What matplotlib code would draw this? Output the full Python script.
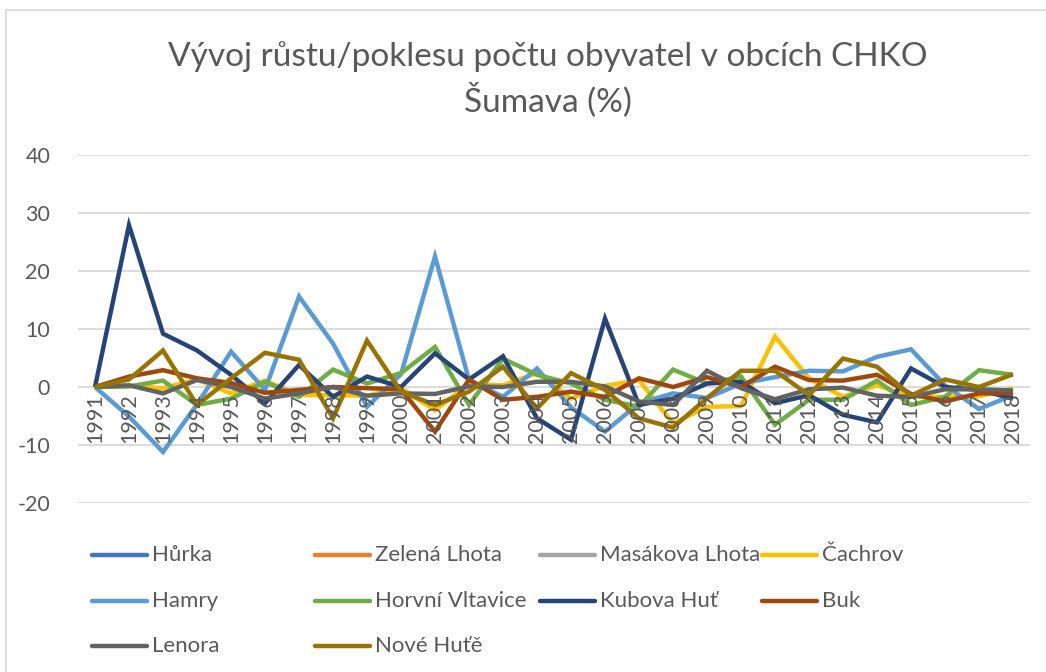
import matplotlib.pyplot as plt
from matplotlib.lines import Line2D
from matplotlib.patches import Rectangle

plt.rcParams["axes.unicode_minus"] = False

years = list(range(1991, 2019))
year_labels = [str(y) for y in years]

# municipalities and their line colours (legend order, row by row)
names = ["Hůrka", "Zelená Lhota", "Masákova Lhota", "Čachrov",
         "Hamry", "Horvní Vltavice", "Kubova Huť", "Buk",
         "Lenora", "Nové Huťě"]
colors = ["#4472C4", "#ED7D31", "#A5A5A5", "#FFC000",
          "#5B9BD5", "#70AD47", "#264478", "#9E480E",
          "#636363", "#997300"]

# year-on-year change of population (%)
hurka = []
zelena_lhota = []
masakova_lhota = []
cachrov = [0, 0.2, -0.2, 1.3, -1.1, 1.1, -1.4, -1.4, -1.5, -0.2,
           -4.0, 0.5, 0.3, 2.4, -2.0, 0.2, 1.2, -6.3, -3.4, -3.3,
           8.7, 1.5, -1.7, 0.3, -1.7, -1.7, -1.6, -0.2]
hamry = [0, -5.1, -11.2, -3.0, 6.1, -0.5, 15.6, 7.5, -3.4, 2.2,
         22.5, 1.2, -1.7, 3.2, -3.5, -7.7, -2.8, -1.1, -1.9, 0.6,
         1.7, 2.8, 2.7, 5.2, 6.5, 0.3, -3.8, -1.4]
horni_vltavice = [0, 0.1, 1.1, -3.1, -2.0, 0.9, -1.7, 3.0, 0.6, 2.4,
                  6.9, -3.1, 4.9, 2.1, 0.6, -2.2, -3.4, 3.0, 0.6, 1.8,
                  -6.5, -2.2, -2.2, 1.1, -3.1, -1.7, 2.9, 2.1]
kubova_hut = [0, 27.9, 9.2, 6.3, 2.1, -2.8, 3.8, -1.7, 1.8, 0.0,
              5.8, 1.3, 5.3, -5.4, -9.1, 11.8, -3.1, -2.0, 0.6, 0.9,
              -2.8, -1.4, -4.8, -6.1, 3.2, 0.0, -0.5, -2.0]
buk = [0, 1.8, 2.9, 1.5, 0.7, -1.0, -0.5, 0.0, -0.2, -0.4,
       -7.7, 1.3, -2.2, -1.7, -0.8, -1.7, 1.5, 0.0, 1.7, 0.0,
       3.5, 1.2, 1.1, 2.1, -1.2, -2.5, -1.1, -1.1]
lenora = [0, 0.3, -1.1, 1.2, 0.0, -2.0, -1.1, 0.0, -1.5, -1.1,
          -1.2, 0.1, 0.0, 0.9, 0.9, 0.1, -2.5, -3.1, 2.8, -0.2,
          -2.1, -0.4, -0.1, -1.5, -1.7, -0.4, -0.4, -0.6]
nove_hute = [0, 1.3, 6.3, -3.1, 1.5, 5.9, 4.7, -5.4, 8.0, -0.8,
             -3.1, -0.8, 3.5, -3.7, 2.4, -0.5, -5.4, -7.0, -1.9, 2.8,
             2.8, -1.4, 4.9, 3.5, -1.5, 1.3, 0.0, 2.2]

series = [hurka, zelena_lhota, masakova_lhota, cachrov,
          hamry, horni_vltavice, kubova_hut, buk,
          lenora, nove_hute]

text_color = "#595959"
grid_color = "#D9D9D9"
font = "Lato"

fig = plt.figure(figsize=(10.46, 6.72), dpi=100)
ax = fig.add_axes([78 / 1046, 1 - 503 / 672, (1030 - 78) / 1046, (503 - 155) / 672])

x = list(range(len(years)))
for vals, c in zip(series, colors):
    if vals:
        ax.plot(x[:len(vals)], vals, color=c, lw=3.2, solid_joinstyle="miter",
                solid_capstyle="butt")

ax.set_xlim(-0.5, len(years) - 0.5)
ax.set_ylim(-20, 40)
ax.set_yticks(range(-20, 41, 10))
ax.yaxis.grid(True, color=grid_color, lw=1.3)
ax.set_axisbelow(True)
ax.set_xticks([])
for s in ax.spines.values():
    s.set_visible(False)
ax.tick_params(axis="y", length=0, pad=20, labelsize=15.5, labelcolor=text_color)
for lab in ax.get_yticklabels():
    lab.set_family(font)

# category labels sit on the zero line, rotated
for i, lab in enumerate(year_labels):
    ax.annotate(lab, (i, 0), xytext=(0, -4.5), textcoords="offset points",
                rotation=90, ha="center", va="top", fontsize=15.5,
                color=text_color, family=font)

fig.text(0.524, 1 - 57 / 672, "Vývoj růstu/poklesu počtu obyvatel v obcích CHKO",
         ha="center", va="center", fontsize=24, color=text_color, family=font)
fig.text(0.524, 1 - 100 / 672, "Šumava (%)",
         ha="center", va="center", fontsize=24, color=text_color, family=font)

# legend laid out on a fixed grid
col_x = [92, 315, 540, 762]
row_y = [555, 601, 646]
for k, (name, c) in enumerate(zip(names, colors)):
    cx = col_x[k % 4]
    cy = row_y[k // 4]
    fig.add_artist(Line2D([cx / 1046, (cx + 55) / 1046], [1 - cy / 672] * 2,
                          color=c, lw=3.2, solid_capstyle="round"))
    fig.text((cx + 60) / 1046, 1 - cy / 672, name, ha="left", va="center",
             fontsize=16, color=text_color, family=font)

# chart frame
fig.add_artist(Rectangle((6 / 1046, -0.1), 1.2, 1.1 - 10 / 672,
                         transform=fig.transFigure, fill=False,
                         edgecolor=grid_color, lw=1.2))

fig.savefig("out.png", dpi=100)
